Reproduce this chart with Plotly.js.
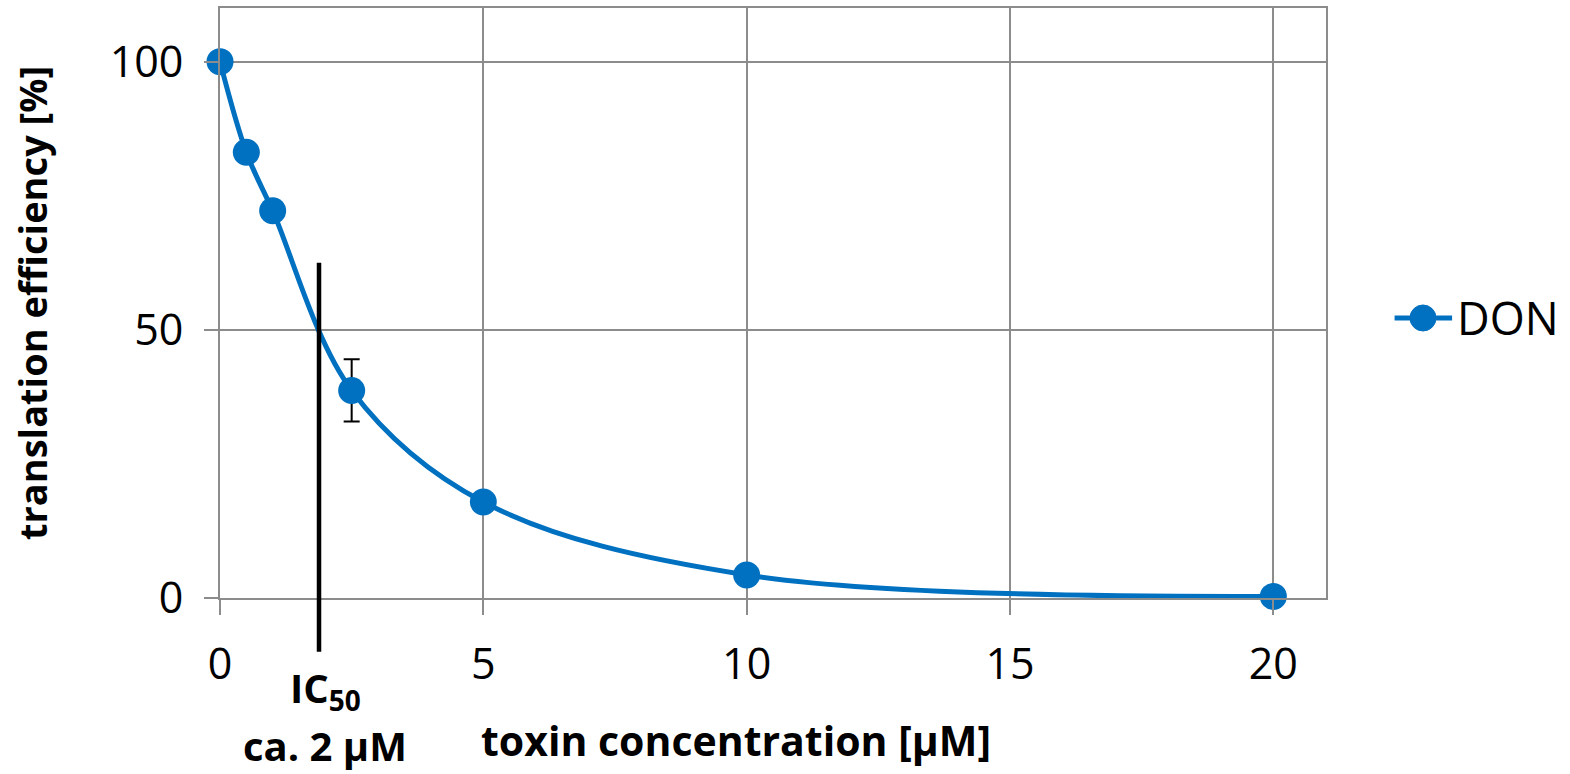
<!DOCTYPE html>
<html>
<head>
<meta charset="utf-8">
<script src="https://cdn.plot.ly/plotly-3.0.1.min.js"></script>
<style>html,body{margin:0;padding:0;background:#fff;}#chart{width:1570px;height:774px;}</style>
</head>
<body>
<div id="chart"></div>
<script>
// Data
const concentration = [0, 0.5, 1, 2.5, 5, 10, 20];
const efficiency = [100, 83.1, 72.2, 38.7, 17.9, 4.3, 0.3];
const errorValues = [0, 0, 0, 5.8, 0, 0, 0];
const seriesName = 'DON';
const xTicks = [0, 5, 10, 15, 20];
const yTicks = [0, 50, 100];
const ic50 = 1.88;
const ic50LineTop = 62.5;
const ic50LineBottom = -10;
const xRange = [0, 21];
const yRange = [0, 110];

const blue = '#0070C0';
const grid = '#8c8c8c';
const font = 'Open Sans, Noto Sans, sans-serif';

const trace = {
  x: concentration,
  y: efficiency,
  name: seriesName,
  type: 'scatter',
  mode: 'lines+markers',
  line: {color: blue, width: 5, shape: 'spline', smoothing: 1},
  marker: {color: blue, size: 27},
  error_y: {type: 'data', array: errorValues, visible: true, color: '#000', thickness: 2, width: 8},
  cliponaxis: false,
  showlegend: false
};

const toPaperY = v => (v - yRange[0]) / (yRange[1] - yRange[0]);

// legend drawn as key: line + circle + label, placed right of the plot
const legendY = 0.4746;
const legendX0 = 1.062, legendX1 = 1.114, legendXc = 1.0877, legendTextX = 1.117;

const layout = {
  width: 1570, height: 774,
  margin: {l: 220, r: 244, t: 8, b: 176},
  paper_bgcolor: '#fff', plot_bgcolor: '#fff',
  font: {family: font, color: '#000'},
  showlegend: false,
  xaxis: {
    range: xRange, tickvals: xTicks, ticktext: xTicks.map(String),
    showgrid: true, gridcolor: grid, gridwidth: 2,
    showline: true, linecolor: grid, linewidth: 2, mirror: true,
    ticks: 'outside', ticklen: 15, tickcolor: grid, tickwidth: 2,
    tickfont: {size: 43, family: font}, zeroline: false, ticklabelstandoff: 12
  },
  yaxis: {
    range: yRange, tickvals: yTicks, ticktext: yTicks.map(String),
    showgrid: true, gridcolor: grid, gridwidth: 2,
    showline: true, linecolor: grid, linewidth: 2, mirror: true,
    ticks: 'outside', ticklen: 14, tickcolor: grid, tickwidth: 2,
    tickfont: {size: 43, family: font}, zeroline: false, ticklabelstandoff: 12,
    title: {text: '<b>translation efficiency [%]</b>', font: {size: 38, family: font}, standoff: 50}
  },
  shapes: [
    {type: 'line', xref: 'x', yref: 'paper',
     x0: ic50, x1: ic50, y0: toPaperY(ic50LineBottom), y1: toPaperY(ic50LineTop),
     line: {color: '#000', width: 4.5}, layer: 'above'},
    {type: 'line', xref: 'paper', yref: 'paper', x0: legendX0, x1: legendX1, y0: legendY, y1: legendY,
     line: {color: blue, width: 5}},
    {type: 'circle', xref: 'paper', yref: 'paper', xsizemode: 'pixel', ysizemode: 'pixel',
     xanchor: legendXc, yanchor: legendY, x0: -13, x1: 13, y0: -13, y1: 13,
     fillcolor: blue, line: {color: blue, width: 1}}
  ],
  annotations: [
    {xref: 'paper', yref: 'paper', x: legendTextX, y: legendY, xanchor: 'left', yanchor: 'middle', showarrow: false,
     text: seriesName, font: {size: 45, family: font}},
    {xref: 'x', yref: 'paper', x: 2, y: -0.155, yanchor: 'middle', xanchor: 'center', showarrow: false,
     text: '<b>IC<sub>50</sub></b>', font: {size: 40, family: font}},
    {xref: 'x', yref: 'paper', x: 2, y: -0.25, yanchor: 'middle', xanchor: 'center', showarrow: false,
     text: '<b>ca. 2 µM</b>', font: {size: 40, family: font}},
    {xref: 'x', yref: 'paper', x: 9.8, y: -0.24, yanchor: 'middle', xanchor: 'center', showarrow: false,
     text: '<b>toxin concentration [µM]</b>', font: {size: 41, family: font}}
  ]
};

Plotly.newPlot('chart', [trace], layout, {displayModeBar: false, staticPlot: true});
</script>
</body>
</html>
